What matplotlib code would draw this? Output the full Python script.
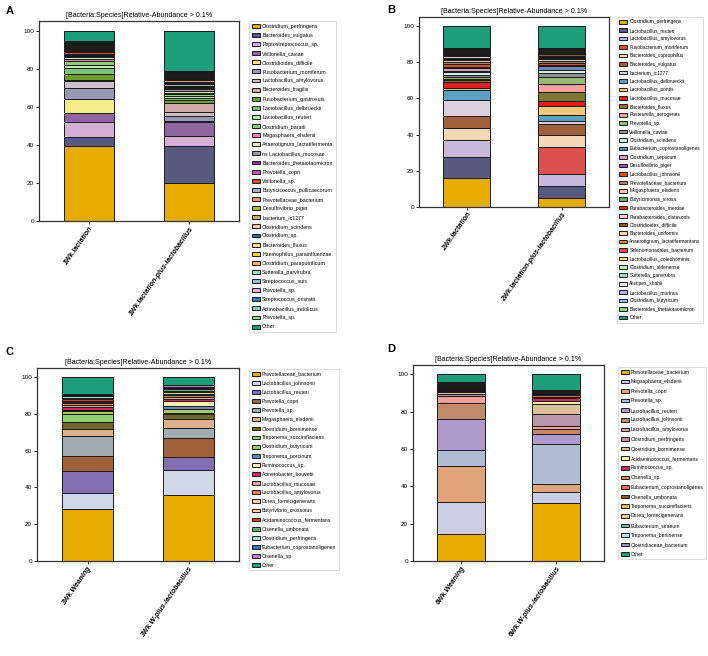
import numpy as np
import matplotlib
matplotlib.use("Agg")
import matplotlib.pyplot as plt
from matplotlib import font_manager

# pick a narrow font if there is one (original looks like Calibri)
avail = {f.name for f in font_manager.fontManager.ttflist}
if "Liberation Sans Narrow" in avail:
    base_font, k = "Liberation Sans Narrow", 1.15
else:
    base_font, k = "Liberation Sans", 1.0
plt.rcParams["font.family"] = [base_font, "DejaVu Sans"]

title = "[Bacteria:Species]Relative-Abundance > 0.1%"

# ---------------- panel A ----------------
a_samples = ["1Wk.lactation", "1Wk.lactation-plus-lactobacillus"]
a_species = ["Clostridium_perfringens", "Bacteroides_vulgatus", "Peptostreptococcus_sp.",
             "Veillonella_caviae", "Clostridioides_difficile", "Fusobacterium_mortiferum",
             "Lactobacillus_amylovorus", "Bacteroides_fragilis", "Fusobacterium_gastrosuis",
             "Lactobacillus_delbrueckii", "Lactobacillus_reuteri", "Clostridium_baratii",
             "Megasphaera_elsdenii", "Anaerotignum_lactatifermenta", "ns Lactobacillus_mucosae",
             "Bacteroides_thetaiotaomicron", "Prevotella_copri", "Veillonella_sp.",
             "Butyricicoccus_pullicaecorum", "Prevotellaceae_bacterium", "Desulfovibrio_piger",
             "bacterium_ic1277", "Clostridium_scindens", "Clostridium_sp.", "Bacteroides_fluxus",
             "Haemophilus_parainfluenzae", "Clostridium_paraputrificum", "Sutterella_parvirubra",
             "Streptococcus_suis", "Prevotella_sp.", "Streptococcus_orisratti",
             "Actinobacillus_indolicus", "Prevotella_sp.", "Other"]
a_lact = [39.6, 4.5, 7.9, 4.7, 7.4, 5.8, 3.5, 0.8, 3.0, 3.0, 1.5, 2.3, 0.9, 1.0, 0.7, 0.6, 0.5, 0.9,
          0.6, 0.5, 0.5, 0.5, 0.4, 0.4, 0.4, 0.4, 0.4, 0.4, 0.4, 0.3, 0.3, 0.3, 0.3, 5.3]
a_plus = [19.8, 19.4, 5.4, 7.5, 0.4, 2.6, 2.0, 4.7, 1.5, 1.3, 1.2, 1.0, 0.5, 1.2, 0.6, 0.7, 0.5, 0.4,
          1.0, 0.8, 0.7, 0.6, 0.6, 0.6, 0.5, 0.5, 0.5, 0.5, 0.5, 0.4, 0.4, 0.4, 0.3, 21.0]
a_colors = ["#e6ac00", "#575a7e", "#d4b0d6", "#9068a0", "#f7ec8a", "#9898b4", "#cdc0cc", "#cfaaa6",
            "#6a9e2a", "#7dc27a", "#c8e6b8", "#8ad07a", "#e882b0", "#ddefc0", "#9a9a9a", "#7a3f8a",
            "#c25ab8", "#d9501e", "#a8b0bc", "#e8967a", "#a8b840", "#d9a080", "#f5c8c0", "#2070b0",
            "#f5e0a0", "#f5d040", "#f5b070", "#a8dcc0", "#90c0dc", "#f0b0d8", "#3a78b8", "#80d0c0",
            "#a0d880", "#1e9e78"]

# ---------------- panel B ----------------
b_samples = ["2Wk.lactation", "2Wk.lactation-plus-lactobacillus"]
b_species = ["Clostridium_perfringens", "Lactobacillus_reuteri", "Lactobacillus_amylovorus",
             "Fusobacterium_mortiferum", "Bacteroides_coprophilus", "Bacteroides_vulgatus",
             "bacterium_ic1277", "Lactobacillus_delbrueckii", "Lactobacillus_pontis",
             "Lactobacillus_mucosae", "Bacteroides_fluxus", "Pasteurella_aerogenes", "Prevotella_sp.",
             "Veillonella_caviae", "Clostridium_scindens", "Eubacterium_coprostanoligenes",
             "Clostridium_septicum", "Desulfovibrio_piger", "Lactobacillus_johnsonii",
             "Prevotellaceae_bacterium", "Megasphaera_elsdenii", "Butyricimonas_virosa",
             "Parabacteroides_merdae", "Parabacteroides_distasonis", "Clostridioides_difficile",
             "Bacteroides_uniformis", "Anaerotignum_lactatifermentans", "Selenomonadales_bacterium",
             "Lactobacillus_coleohominis", "Clostridium_aldenense", "Sutterella_parvirubra",
             "Alistipes_shahii", "Lactobacillus_murinus", "Clostridium_butyricum",
             "Bacteroides_thetaiotaomicron", "Other"]
b_lact = [16.3, 11.1, 9.6, 0.2, 6.6, 6.3, 9.3, 5.2, 1.1, 3.3, 1.0, 0.5, 1.1, 1.3, 1.9, 0.6, 1.5, 0.7,
          1.2, 1.2, 1.0, 0.8, 0.8, 0.6, 0.6, 0.5, 0.5, 0.4, 0.4, 0.4, 0.4, 0.3, 0.3, 0.3, 0.5, 12.2]
b_plus = [4.8, 6.7, 6.7, 15.2, 6.3, 6.3, 1.3, 3.3, 5.0, 3.0, 5.2, 3.9, 4.3, 2.2, 1.5, 2.2, 0.5, 0.3,
          1.1, 1.0, 0.8, 0.8, 0.7, 0.5, 0.8, 0.5, 0.4, 0.5, 0.4, 0.4, 0.4, 0.3, 0.3, 0.3, 0.2, 11.9]
b_colors = ["#e6ac00", "#575a7e", "#c8b8dc", "#dc5050", "#f5d8b8", "#a0603c", "#dcd0e0", "#5ba0c0",
            "#f8c878", "#e02020", "#807830", "#f8a0a0", "#98b878", "#909090", "#d0eee8", "#6888b8",
            "#c8a0c0", "#a050a8", "#e05010", "#a88870", "#e8c8b8", "#70a870", "#e03020", "#f8d0e8",
            "#806020", "#f8d8a8", "#f08000", "#e84860", "#f0e890", "#c0e8c0", "#a0d8c8", "#f0e8f0",
            "#b0b0e0", "#a0c0d8", "#98d070", "#1e9e78"]

# ---------------- panel C ----------------
c_samples = ["3Wk.Weaning", "3Wk.W-plus-lactobacillus"]
c_species = ["Prevotellaceae_bacterium", "Lactobacillus_johnsonii", "Lactobacillus_reuteri",
             "Prevotella_copri", "Prevotella_sp.", "Megasphaera_elsdenii", "Clostridium_bornimense",
             "Treponema_succiniflaciens", "Clostridium_butyricum", "Treponema_porcinum",
             "Ruminococcus_sp.", "Acinetobacter_bouvetii", "Lactobacillus_mucosae",
             "Lactobacillus_amylovorus", "Dorea_formicigenerans", "Butyrivibrio_crossotus",
             "Acidaminococcus_fermentans", "Olsenella_umbonata", "Clostridium_perfringens",
             "Eubacterium_coprostanoligenes", "Olsenella_sp.", "Other"]
c_wean = [28.4, 8.7, 11.8, 8.2, 10.9, 4.0, 3.6, 4.4, 1.8, 0.3, 0.3, 1.6, 1.0, 0.8, 0.8, 0.7, 0.6,
          0.8, 0.8, 0.6, 0.6, 9.3]
c_plus = [36.0, 13.5, 7.3, 10.0, 5.8, 4.9, 2.7, 0.5, 2.2, 1.5, 2.9, 0.8, 1.0, 1.0, 0.8, 0.8, 0.9,
          0.8, 0.8, 0.7, 0.7, 4.4]
c_colors = ["#e6ac00", "#d0d8e8", "#8070b0", "#a0603c", "#a0acb0", "#deb090", "#706828", "#90d070",
            "#a8c870", "#6888b0", "#f8f4b0", "#e02060", "#c8b0a8", "#f08040", "#f8d0c0", "#f8d8a0",
            "#e03820", "#60b080", "#a8dcc8", "#3878b8", "#c080c0", "#1e9e78"]

# ---------------- panel D ----------------
d_samples = ["6Wk.Weaning", "6Wk.W-plus-lactobacillus"]
d_species = ["Prevotellaceae_bacterium", "Megasphaera_elsdenii", "Prevotella_copri", "Prevotella_sp.",
             "Lactobacillus_reuteri", "Lactobacillus_johnsonii", "Lactobacillus_amylovorus",
             "Clostridium_perfringens", "Clostridium_bornimense", "Acidaminococcus_fermentans",
             "Ruminococcus_sp.", "Olsenella_sp.", "Eubacterium_coprostanoligenes", "Olsenella_umbonata",
             "Treponema_succiniflaciens", "Dorea_formicigenerans", "Eubacterium_siraeum",
             "Treponema_berlinense", "Clostridiaceae_bacterium", "Other"]
d_wean = [14.3, 17.2, 19.6, 8.2, 16.9, 8.3, 4.0, 0.9, 1.0, 0.7, 0.6, 0.5, 0.5, 0.7, 0.5, 0.5, 0.5,
          0.6, 0.6, 3.9]
d_plus = [30.9, 6.0, 4.4, 21.2, 5.3, 2.7, 1.8, 6.5, 5.1, 2.0, 1.6, 0.6, 0.6, 0.6, 0.5, 0.5, 0.5,
          0.5, 0.4, 8.3]
d_colors = ["#e6ac00", "#ccccE4", "#e0a478", "#b0bcd4", "#b09ccc", "#c08c6c", "#f8a098", "#b898a8",
            "#dcc098", "#f0f0b0", "#d02860", "#f88860", "#e07050", "#8c6020", "#f0b860", "#f8c888",
            "#70b8a0", "#c8e0f0", "#a090c8", "#1e9e78"]

W, H = 708, 656
fig = plt.figure(figsize=(W / 100, H / 100), dpi=100)


def px_rect(left, top, right, bottom):
    return [left / W, 1 - bottom / H, (right - left) / W, (bottom - top) / H]


def draw_panel(rect, letter, letter_xy, samples, species, colors, v1, v2,
               leg_xy, leg_fs, leg_spacing):
    ax = fig.add_axes(rect)
    vals = np.column_stack([v1, v2])
    x = np.arange(len(samples))
    bottom = np.zeros(len(samples))
    for name, col, v in zip(species, colors, vals):
        ax.bar(x, v, 0.5, bottom=bottom, color=col, edgecolor="#1a1a1a", linewidth=0.7, label=name)
        bottom += v
    ax.set_xlim(-0.5, 1.5)
    ax.set_ylim(0, 105)
    ax.set_yticks([0, 20, 40, 60, 80, 100])
    ax.tick_params(axis="y", labelsize=4.6 * k, length=2, width=0.6, pad=1.5)
    ax.tick_params(axis="x", length=2, width=0.6, pad=1)
    ax.set_xticks(x)
    ax.set_xticklabels(samples, rotation=55, ha="right", rotation_mode="anchor",
                       fontsize=5 * k, style="italic", fontweight="bold")
    for s in ax.spines.values():
        s.set_color("#333333")
        s.set_linewidth(0.9)
    ax.set_title(title, fontsize=5.1 * k, pad=3)
    leg = ax.legend(loc="upper left", bbox_to_anchor=(leg_xy[0] / W, 1 - leg_xy[1] / H),
                    bbox_transform=fig.transFigure, fontsize=leg_fs * k, frameon=True, fancybox=False,
                    edgecolor="#cccccc", borderpad=0.5, labelspacing=leg_spacing, handlelength=1.6,
                    handleheight=0.75, handletextpad=0.4, borderaxespad=0)
    leg.get_frame().set_linewidth(0.6)
    fig.text(letter_xy[0] / W, 1 - letter_xy[1] / H, letter, fontsize=8, fontweight="bold",
             ha="center", va="center", family="Liberation Sans")
    return ax


draw_panel(px_rect(39, 21, 239, 221), "A", (9.5, 11), a_samples, a_species, a_colors,
           a_lact, a_plus, (249, 21), 3.8, 0.78)
draw_panel(px_rect(419, 17, 609, 207), "B", (391, 10), b_samples, b_species, b_colors,
           b_lact, b_plus, (617, 17), 3.55, 0.7)
draw_panel(px_rect(37, 368, 239, 561), "C", (9.5, 352), c_samples, c_species, c_colors,
           c_wean, c_plus, (249, 369), 3.7, 0.8)
draw_panel(px_rect(413, 365, 604, 561), "D", (391, 349), d_samples, d_species, d_colors,
           d_wean, d_plus, (618, 367), 3.6, 0.92)

fig.savefig("out.png", dpi=100)
